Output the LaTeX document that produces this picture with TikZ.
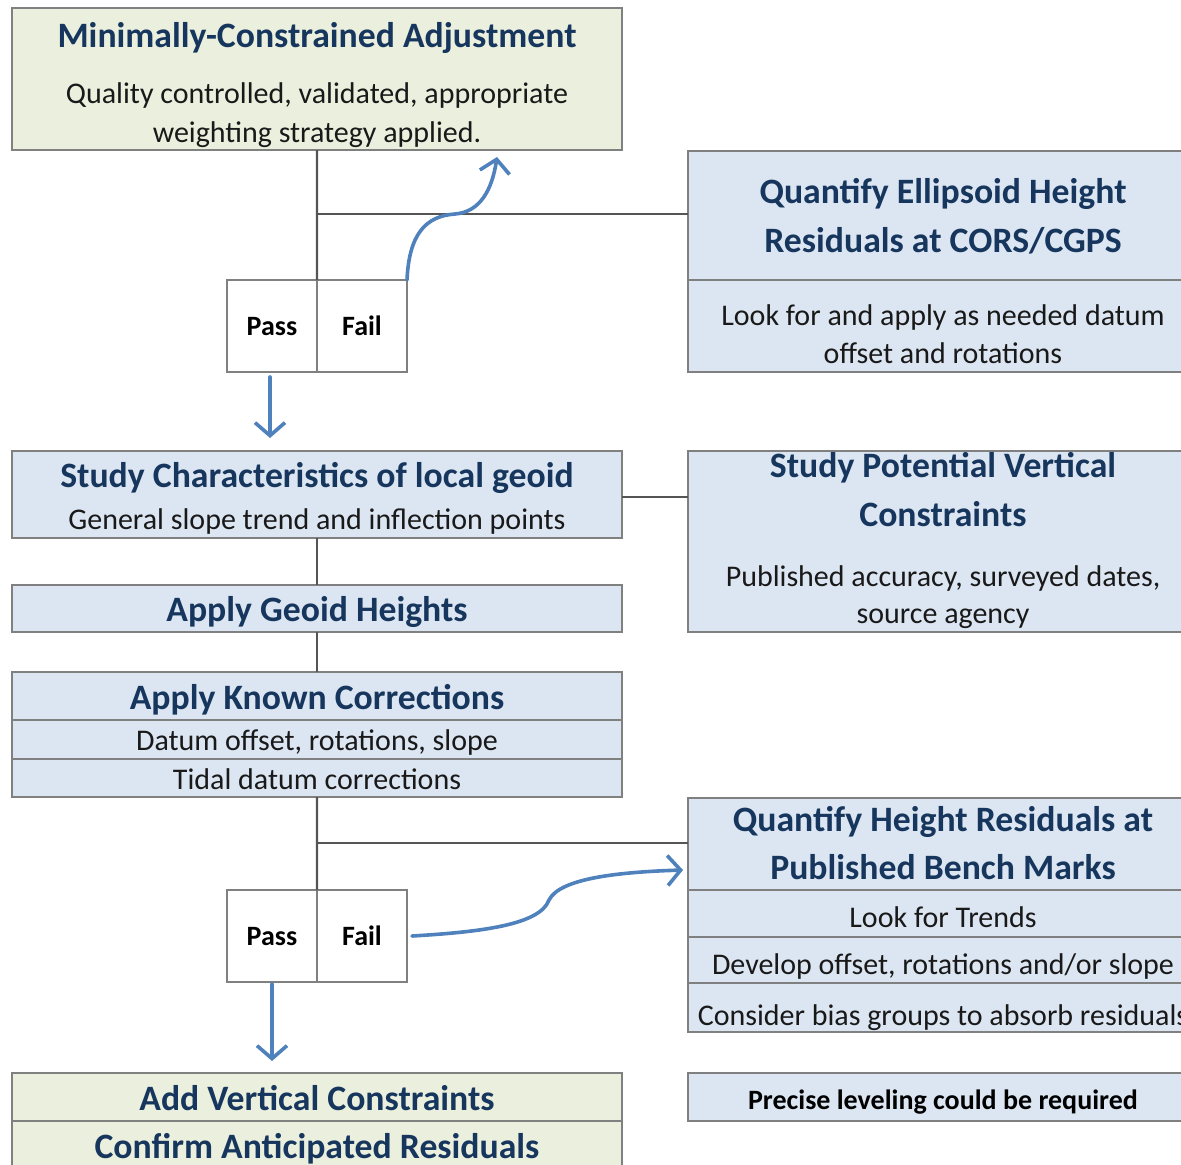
\documentclass[tikz,border=0pt]{standalone}
\usepackage{fontspec}
\setmainfont{Carlito}
\usetikzlibrary{arrows.meta}
\definecolor{boxgreen}{HTML}{EBF0DE}
\definecolor{boxblue}{HTML}{DCE6F2}
\definecolor{titleblue}{HTML}{17365D}
\definecolor{edgegray}{HTML}{808080}
\definecolor{linkgray}{HTML}{555555}
\definecolor{flowblue}{HTML}{4F81BD}
\tikzset{
  cell/.style={draw=edgegray, line width=1.6bp, inner sep=0pt, outer sep=0pt, anchor=north west},
  greencell/.style={cell, fill=boxgreen},
  bluecell/.style={cell, fill=boxblue},
  whitecell/.style={cell, fill=white, minimum width=90bp, minimum height=92bp},
  ttl/.style={font=\fontsize{35.7bp}{42bp}\selectfont\bfseries, text=titleblue, inner sep=0pt, anchor=base},
  sub/.style={font=\fontsize{30bp}{36bp}\selectfont, text=black!90, inner sep=0pt, anchor=base},
  pf/.style={font=\fontsize{28bp}{34bp}\selectfont\bfseries, text=black, inner sep=0pt, anchor=base},
  link/.style={draw=linkgray, line width=2.4bp},
  flow/.style={draw=flowblue, line width=3.6bp, line cap=round,
    -{Straight Barb[length=13bp, width=30bp, line width=3.6bp]}}
}
\begin{document}
\begin{tikzpicture}[x=1bp, y=-1bp]
\path[use as bounding box] (0,0) rectangle (1181,1165);
\clip (0,0) rectangle (1181,1165);
\fill[white] (0,0) rectangle (1181,1165);

% ---- left column boxes ----
\node[greencell, minimum width=610bp, minimum height=142bp] (mca) at (12,8) {};
\node[ttl] (mcaT) at (317,47) {Minimally-Constrained Adjustment};
\node[sub] (mcaS1) at (317,103) {Quality controlled, validated, appropriate};
\node[sub] (mcaS2) at (317,142) {weighting strategy applied.};

\node[whitecell] (pass1) at (227,280) {};
\node[whitecell] (fail1) at (317,280) {};
\node[pf] (pass1T) at (272,335) {Pass};
\node[pf] (fail1T) at (362,335) {Fail};

\node[bluecell, minimum width=610bp, minimum height=87bp] (sc) at (12,451) {};
\node[ttl] (scT) at (317,487) {Study Characteristics of local geoid};
\node[sub] (scS) at (317,529) {General slope trend and inflection points};

\node[bluecell, minimum width=610bp, minimum height=47bp] (agh) at (12,585) {};
\node[ttl] (aghT) at (317,621) {Apply Geoid Heights};

\node[bluecell, minimum width=610bp, minimum height=48bp] (akc1) at (12,672) {};
\node[bluecell, minimum width=610bp, minimum height=39bp] (akc2) at (12,720) {};
\node[bluecell, minimum width=610bp, minimum height=38bp] (akc3) at (12,759) {};
\node[ttl] (akcT) at (317,709) {Apply Known Corrections};
\node[sub] (akcS1) at (317,750) {Datum offset, rotations, slope};
\node[sub] (akcS2) at (317,789) {Tidal datum corrections};

\node[whitecell] (pass2) at (227,890) {};
\node[whitecell] (fail2) at (317,890) {};
\node[pf] (pass2T) at (272,945) {Pass};
\node[pf] (fail2T) at (362,945) {Fail};

\node[greencell, minimum width=610bp, minimum height=48bp] (avc) at (12,1073) {};
\node[greencell, minimum width=610bp, minimum height=60bp] (car) at (12,1121) {};
\node[ttl] (avcT) at (317,1110) {Add Vertical Constraints};
\node[ttl] (carT) at (317,1158) {Confirm Anticipated Residuals};

% ---- right column boxes ----
\node[bluecell, minimum width=510bp, minimum height=129bp] (qe1) at (688,151) {};
\node[bluecell, minimum width=510bp, minimum height=92bp] (qe2) at (688,280) {};
\node[ttl] (qeT1) at (943,203) {Quantify Ellipsoid Height};
\node[ttl] (qeT2) at (943,252) {Residuals at CORS/CGPS};
\node[sub] (qeS1) at (943,325) {Look for and apply as needed datum};
\node[sub] (qeS2) at (943,363) {offset and rotations};

\node[bluecell, minimum width=510bp, minimum height=181bp] (spv) at (688,451) {};
\node[ttl] (spvT1) at (943,477) {Study Potential Vertical};
\node[ttl] (spvT2) at (943,526) {Constraints};
\node[sub] (spvS1) at (943,586) {Published accuracy, surveyed dates,};
\node[sub] (spvS2) at (943,623) {source agency};

\node[bluecell, minimum width=510bp, minimum height=92bp] (qh1) at (688,798) {};
\node[bluecell, minimum width=510bp, minimum height=47bp] (qh2) at (688,890) {};
\node[bluecell, minimum width=510bp, minimum height=46bp] (qh3) at (688,937) {};
\node[bluecell, minimum width=510bp, minimum height=49bp] (qh4) at (688,983) {};
\node[ttl] (qhT1) at (943,831) {Quantify Height Residuals at};
\node[ttl] (qhT2) at (943,879) {Published Bench Marks};
\node[sub] (qhS1) at (943,927) {Look for Trends};
\node[sub] (qhS2) at (943,974) {Develop offset, rotations and/or slope};
\node[sub] (qhS3) at (943,1025) {Consider bias groups to absorb residuals};

\node[bluecell, minimum width=510bp, minimum height=48bp] (prl) at (688,1073) {};
\node[pf] (prlT) at (943,1109) {Precise leveling could be required};

% ---- grey connectors ----
\coordinate (j1) at (317,214);
\coordinate (j2) at (317,843);
\coordinate (j3) at (622,497);
\draw[link] (mca.south) -- (fail1.north west);
\draw[link] (j1) -- (j1 -| qe1.west);
\draw[link] (j3) -- (j3 -| spv.west);
\draw[link] (sc.south) -- (agh.north);
\draw[link] (agh.south) -- (akc1.north);
\draw[link] (akc3.south) -- (fail2.north west);
\draw[link] (j2) -- (j2 -| qh1.west);

% ---- blue flow arrows ----
\coordinate (up1) at (497,157);
\coordinate (dn1) at (270,438);
\coordinate (rt2) at (683,870);
\coordinate (dn2) at (272,1061);
\draw[flow] (fail1.north east) .. controls (409,235) and (425,216) .. (455,214)
  .. controls (480,212) and (492,190) .. (up1);
\draw[flow] ([yshift=-5bp]pass1.south -| dn1) -- (dn1);
\draw[flow] ([xshift=5bp]fail2.east) .. controls (480,932) and (540,925) .. (549,900)
  .. controls (560,878) and (620,872) .. (rt2);
\draw[flow] ([yshift=-2bp]pass2.south -| dn2) -- (dn2);
\end{tikzpicture}
\end{document}
